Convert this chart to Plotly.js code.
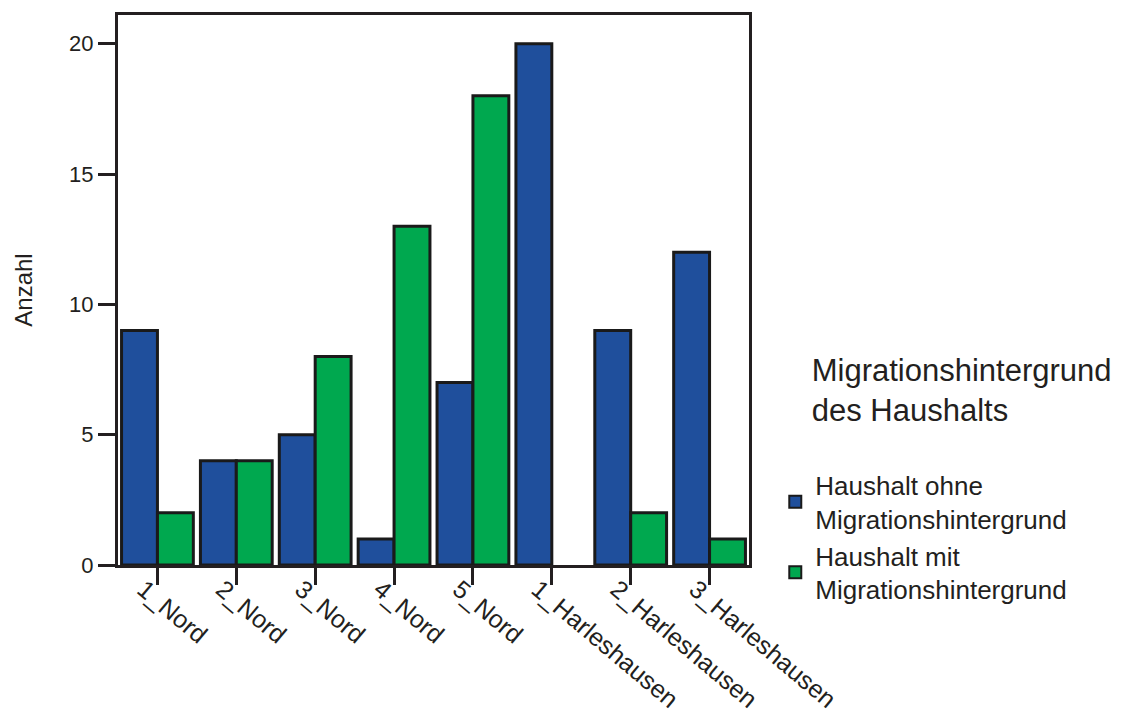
<!DOCTYPE html>
<html><head><meta charset="utf-8">
<script src="https://cdn.plot.ly/plotly-3.0.1.min.js"></script>
<style>html,body{margin:0;padding:0;background:#fff}</style>
</head><body>
<div id="chart" style="width:1125px;height:713px"></div>
<script>
const categories = ["1_Nord","2_Nord","3_Nord","4_Nord","5_Nord","1_Harleshausen","2_Harleshausen","3_Harleshausen"];
const ohneValues = [9,4,5,1,7,20,9,12];
const mitValues = [2,4,8,13,18,0,2,1];
const seriesNames = ["Haushalt ohne<br>Migrationshintergrund","Haushalt mit<br>Migrationshintergrund"];
const legendTitle = "Migrationshintergrund<br>des Haushalts";
const yTicks = [0,5,10,15,20];

const font = "Liberation Sans, Arial, sans-serif";
const hideZero = v => (v === 0 ? null : v);
const pad = "\u00a0\u00a0\u00a0\u00a0";
const traces = [
  {type:"bar", x:categories, y:ohneValues.map(hideZero), name:seriesNames[0],
   marker:{color:"#1f4f9c", line:{color:"#1a1a1a", width:3}}},
  {type:"bar", x:categories, y:mitValues.map(hideZero), name:seriesNames[1],
   marker:{color:"#00a84f", line:{color:"#1a1a1a", width:3}}}
];
const layout = {
  width:1125, height:713,
  margin:{l:118, r:375, t:15, b:148},
  paper_bgcolor:"#fff", plot_bgcolor:"#fff",
  barmode:"group", bargap:0.09, bargroupgap:0,
  font:{family:font, color:"#231f20"},
  xaxis:{type:"category", showline:true, linecolor:"#231f20", linewidth:3, mirror:true,
    ticks:"outside", ticklen:17, tickwidth:3, tickcolor:"#231f20",
    tickangle:40, tickfont:{size:25, family:font}, ticklabelstandoff:-20, ticklabelshift:-14,
    showgrid:false, zeroline:false},
  yaxis:{range:[0,21.1], showline:true, linecolor:"#231f20", linewidth:3, mirror:true,
    tickvals:yTicks, ticktext:yTicks.map(String), ticks:"outside", ticklen:17, tickwidth:3, tickcolor:"#231f20",
    tickfont:{size:22, family:font}, showgrid:false, zeroline:false,
    title:{text:"Anzahl", font:{size:24, family:font}, standoff:30}},
  legend:{x:1.04, xanchor:"left", y:0.16, yanchor:"middle",
    font:{size:26, family:font}, tracegroupgap:0, itemsizing:"constant",
    title:{text: legendTitle.split("<br>").map(s => pad + s).join("<br>") + "<br> ", font:{size:31, family:font}}},
  showlegend:true
};
Plotly.newPlot("chart", traces, layout, {staticPlot:true});
</script>
</body></html>
